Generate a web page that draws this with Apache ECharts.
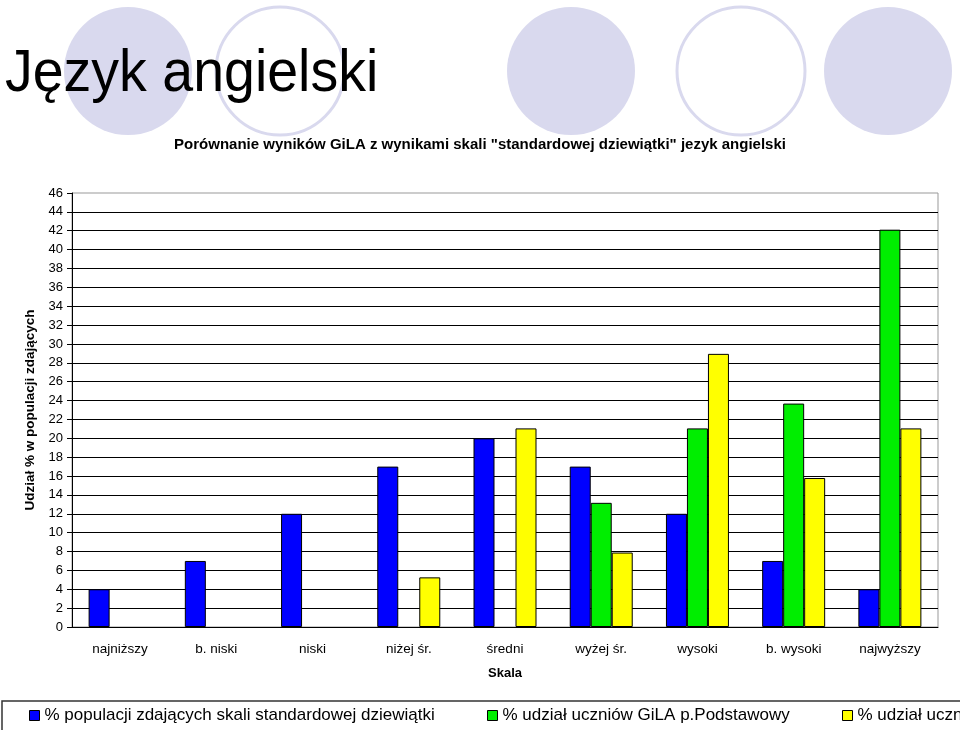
<!DOCTYPE html>
<html><head><meta charset="utf-8">
<script src="https://cdn.jsdelivr.net/npm/echarts@6/dist/echarts.min.js"></script>
<style>html,body{margin:0;padding:0;background:#fff}#c{width:960px;height:730px}</style>
</head><body><div id="c"></div>
<script>
const categories = ['najniższy','b. niski','niski','niżej śr.','średni','wyżej śr.','wysoki','b. wysoki','najwyższy'];
const seriesNames = ['% populacji zdających skali standardowej dziewiątki','% udział uczniów GiLA p.Podstawowy','% udział uczniów GiLA gimnazjum'];
const staninePct = [4, 7, 12, 17, 20, 17, 12, 7, 4];
const gilaPrimary = [null, null, null, null, null, 13.16, 21.05, 23.68, 42.11];
const gilaSecondary = [null, null, null, 5.26, 21.05, 7.89, 28.95, 15.79, 21.05];
const yTicks = {min: 0, max: 46, interval: 2};
const titleText = 'Język angielski';
const subtitleText = 'Porównanie wyników GiLA z wynikami skali "standardowej dziewiątki" jezyk angielski';
const yName = 'Udział % w populacji zdających';
const xName = 'Skala';

const F = '"Liberation Sans", Arial, sans-serif';
const colors = ['#0000ff', '#00ee00', '#ffff00'];
const circ = '#d9d9ee';
const chart = echarts.init(document.getElementById('c'));
function bar(name, data, color) {
  return {name, type: 'bar', data, barWidth: 21, barGap: '0%',
    itemStyle: {color, borderColor: '#000', borderWidth: 1}};
}
const legendBase = {icon: 'rect', itemWidth: 10, itemHeight: 10, top: 707, padding: 0,
  textStyle: {fontFamily: F, fontSize: 17, color: '#000'}, itemStyle: {borderColor: '#000', borderWidth: 1}};
chart.setOption({
  backgroundColor: '#fff',
  animation: false,
  color: colors,
  graphic: [
    {type: 'circle', shape: {cx: 128, cy: 71, r: 64}, style: {fill: circ}, z: -10},
    {type: 'circle', shape: {cx: 280, cy: 71, r: 64}, style: {fill: 'none', stroke: circ, lineWidth: 3}, z: -10},
    {type: 'circle', shape: {cx: 571, cy: 71, r: 64}, style: {fill: circ}, z: -10},
    {type: 'circle', shape: {cx: 741, cy: 71, r: 64}, style: {fill: 'none', stroke: circ, lineWidth: 3}, z: -10},
    {type: 'circle', shape: {cx: 888, cy: 71, r: 64}, style: {fill: circ}, z: -10},
    {type: 'text', x: 5, y: 44, scaleX: 0.925, style: {text: titleText, font: '60px ' + F, fill: '#000'}},
    {type: 'rect', shape: {x: 2, y: 701, width: 970, height: 40}, style: {fill: 'none', stroke: '#333', lineWidth: 1.5}}
  ],
  title: {text: subtitleText, left: 'center', top: 137, padding: 0,
    textStyle: {fontFamily: F, fontSize: 15, fontWeight: 'bold', color: '#000'}},
  legend: [
    Object.assign({}, legendBase, {left: 29, data: [seriesNames[0]]}),
    Object.assign({}, legendBase, {left: 487, data: [seriesNames[1]]}),
    Object.assign({}, legendBase, {left: 842, data: [seriesNames[2]]})
  ],
  grid: {left: 72, right: 22, top: 193, bottom: 103, show: true, borderColor: '#999', borderWidth: 1},
  xAxis: {type: 'category', data: categories, name: xName, nameLocation: 'middle', nameGap: 40,
    nameTextStyle: {fontFamily: F, fontSize: 13, fontWeight: 'bold', color: '#000'},
    axisLine: {lineStyle: {color: '#000', width: 1}},
    axisTick: {length: 5, lineStyle: {color: '#000'}},
    axisLabel: {fontFamily: F, fontSize: 13.5, color: '#000', margin: 15}},
  yAxis: {type: 'value', min: yTicks.min, max: yTicks.max, interval: yTicks.interval,
    name: yName, nameLocation: 'middle', nameGap: 33, nameRotate: 90,
    nameTextStyle: {fontFamily: F, fontSize: 13.5, fontWeight: 'bold', color: '#000'},
    axisLine: {show: true, lineStyle: {color: '#000', width: 1}},
    axisTick: {show: true, length: 5, lineStyle: {color: '#000'}},
    axisLabel: {fontFamily: F, fontSize: 13, color: '#000', margin: 9},
    splitLine: {show: true, showMaxLine: false, lineStyle: {color: '#000', width: 1}}},
  series: [bar(seriesNames[0], staninePct, colors[0]), bar(seriesNames[1], gilaPrimary, colors[1]), bar(seriesNames[2], gilaSecondary, colors[2])]
});
</script></body></html>
